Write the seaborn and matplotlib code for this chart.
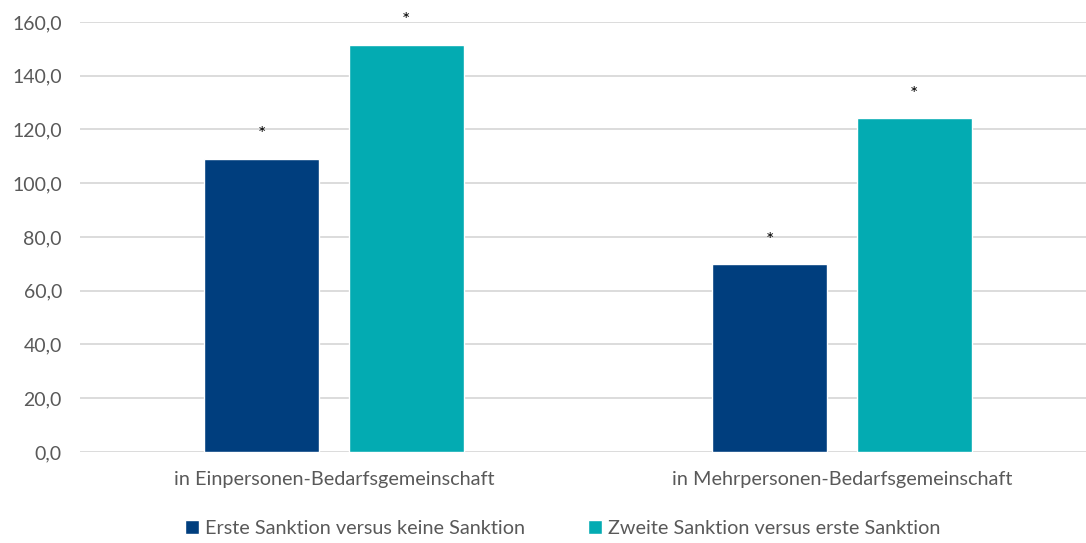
import matplotlib
matplotlib.use("Agg")
import matplotlib.pyplot as plt
import seaborn as sns
import pandas as pd

categories = ["in Einpersonen-Bedarfsgemeinschaft", "in Mehrpersonen-Bedarfsgemeinschaft"]
series_names = ["Erste Sanktion versus keine Sanktion", "Zweite Sanktion versus erste Sanktion"]
erste = [109.0, 69.8]
zweite = [151.4, 124.2]
signif_erste = [True, True]
signif_zweite = [True, True]
yticks = [0, 20, 40, 60, 80, 100, 120, 140, 160]
colors = ["#003E7E", "#03ABB2"]

df = pd.DataFrame({
    "Kategorie": categories * 2,
    "Serie": [series_names[0]] * 2 + [series_names[1]] * 2,
    "Wert": erste + zweite,
})

sns.set_theme(style="white")
plt.rcParams["font.family"] = ["Lato", "DejaVu Sans"]

fig = plt.figure(figsize=(10.86, 5.43), dpi=100)
ax = fig.add_axes([0.0737, 0.1676, 0.9355, 0.7919])

sns.barplot(data=df, x="Kategorie", y="Wert", hue="Serie", palette=colors,
            order=categories, hue_order=series_names, width=0.57, gap=0.205,
            saturation=1, ax=ax, legend=True)

ax.set_ylim(0, 160)
ax.set_xlim(-0.5, 1.5)
ax.set_yticks(yticks)
ax.set_yticklabels([f"{v:.1f}".replace(".", ",") for v in yticks])
ax.yaxis.grid(True, color="#D9D9D9", linewidth=1.3)
ax.set_axisbelow(True)
for s in ax.spines.values():
    s.set_visible(False)
ax.tick_params(axis="y", length=0, pad=13, labelsize=14, labelcolor="#595959")
ax.tick_params(axis="x", length=0, pad=14, labelsize=14.3, labelcolor="#595959")
ax.set_xlabel("")
ax.set_ylabel("")

# significance stars
bars = [p for p in ax.patches if p.get_height() > 0]
flags = signif_erste + signif_zweite
for p, f in zip(bars, flags):
    if f:
        ax.text(p.get_x() + p.get_width() / 2, p.get_height() + 9.0, "*",
                ha="center", va="center", fontsize=14, color="black", clip_on=False)

handles, labels = ax.get_legend_handles_labels()
ax.get_legend().remove()
fig.legend(handles, labels, loc="lower center", bbox_to_anchor=(0.518, -0.022), ncol=2,
           frameon=False, fontsize=14.3, handlelength=0.7, handleheight=0.7,
           handletextpad=0.3, columnspacing=3.2, labelcolor="#595959")

fig.savefig("out.png", dpi=100)
